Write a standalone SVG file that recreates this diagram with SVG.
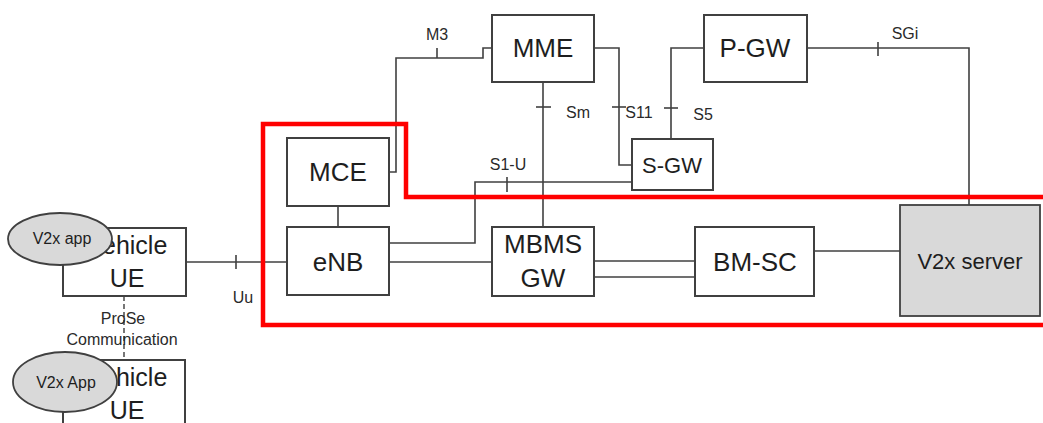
<svg xmlns="http://www.w3.org/2000/svg" width="1043" height="423" viewBox="0 0 1043 423">
<style>
.box{fill:#fff;stroke:#404040;stroke-width:2}
.grey{fill:#d9d9d9;stroke:#404040;stroke-width:1.8}
.ln{fill:none;stroke:#404040;stroke-width:1.6}
.t{font-family:"Liberation Sans",Arial,sans-serif;fill:#1e1e1e;text-anchor:middle}
.big{font-size:26px}
.lbl{font-family:"Liberation Sans",Arial,sans-serif;fill:#2a2a2a;font-size:16px;text-anchor:middle}
</style>
<rect width="1043" height="423" fill="#fff"/>
<g id="connectors">
<path class="ln" d="M186,262 H287"/>
<path class="ln" d="M236,255 V269"/>
<path class="ln" d="M338,206 V227"/>
<path class="ln" d="M389,172 H396 V58 H483 V48 H492"/>
<path class="ln" d="M437,48 V58"/>
<path class="ln" d="M543,82 V227"/>
<path class="ln" d="M536,107 H551"/>
<path class="ln" d="M594,48 H619 V165 H632"/>
<path class="ln" d="M612,107 H626"/>
<path class="ln" d="M671,139 V48 H722"/>
<path class="ln" d="M664,108 H678"/>
<path class="ln" d="M807,48 H969 V205"/>
<path class="ln" d="M878,42 V56"/>
<path class="ln" d="M389,243 H475 V182 H632"/>
<path class="ln" d="M507,177 V192"/>
<path class="ln" d="M389,262 H492"/>
<path class="ln" d="M594,261 H695"/>
<path class="ln" d="M590,277 H695"/>
<path class="ln" d="M814,251 H900"/>
<path d="M124,296 V360" fill="none" stroke="#555" stroke-width="1.6" stroke-dasharray="5 3"/>
</g>
<g id="labels">
<text class="lbl" x="243" y="303">Uu</text>
<text class="lbl" x="437" y="40">M3</text>
<text class="lbl" x="578" y="118">Sm</text>
<text class="lbl" x="639" y="118">S11</text>
<text class="lbl" x="703" y="120">S5</text>
<text class="lbl" x="905" y="39">SGi</text>
<text class="lbl" x="508" y="170">S1-U</text>
<text class="lbl" x="123" y="324">ProSe</text>
<text class="lbl" x="122" y="345">Communication</text>
</g>
<path id="boundary" d="M1043,197 H406 V124 H263 V325 H1043" fill="none" stroke="#ff0000" stroke-width="4.5"/>
<g id="ue1">
<rect class="box" x="63" y="228" width="123" height="68"/>
<text class="t" x="127" y="254" font-size="25">Vehicle</text>
<text class="t" x="127" y="287" font-size="25">UE</text>
</g>
<g id="app1">
<ellipse class="grey" cx="60" cy="239" rx="52" ry="26"/>
<text class="t" x="62" y="244" font-size="16">V2x app</text>
</g>
<g id="ue2">
<path class="box" d="M63,424 V360 H185 V424"/>
<text class="t" x="127" y="386" font-size="25">Vehicle</text>
<text class="t" x="127" y="419" font-size="25">UE</text>
</g>
<g id="app2">
<ellipse class="grey" cx="65" cy="382" rx="52" ry="30"/>
<text class="t" x="66" y="388" font-size="16">V2x App</text>
</g>
<g id="mce">
<rect class="box" x="287" y="138" width="102" height="68"/>
<text class="t big" x="338" y="181">MCE</text>
</g>
<g id="enb">
<rect class="box" x="287" y="227" width="102" height="68"/>
<text class="t big" x="338" y="271">eNB</text>
</g>
<g id="mme">
<rect class="box" x="492" y="15" width="102" height="67"/>
<text class="t big" x="543" y="57">MME</text>
</g>
<g id="sgw">
<rect class="box" x="632" y="139" width="81" height="51"/>
<text class="t" x="672" y="173" font-size="22">S-GW</text>
</g>
<g id="pgw">
<rect class="box" x="704" y="15" width="103" height="67"/>
<text class="t big" x="755" y="57">P-GW</text>
</g>
<g id="mbmsgw">
<rect class="box" x="492" y="227" width="102" height="69"/>
<text class="t big" x="543" y="253">MBMS</text>
<text class="t big" x="543" y="287">GW</text>
</g>
<g id="bmsc">
<rect class="box" x="695" y="227" width="119" height="69"/>
<text class="t big" x="755" y="271">BM-SC</text>
</g>
<g id="v2xserver">
<rect class="grey" x="900" y="205" width="140" height="111"/>
<text class="t" x="970" y="269" font-size="22" fill="#333">V2x server</text>
</g>
</svg>
